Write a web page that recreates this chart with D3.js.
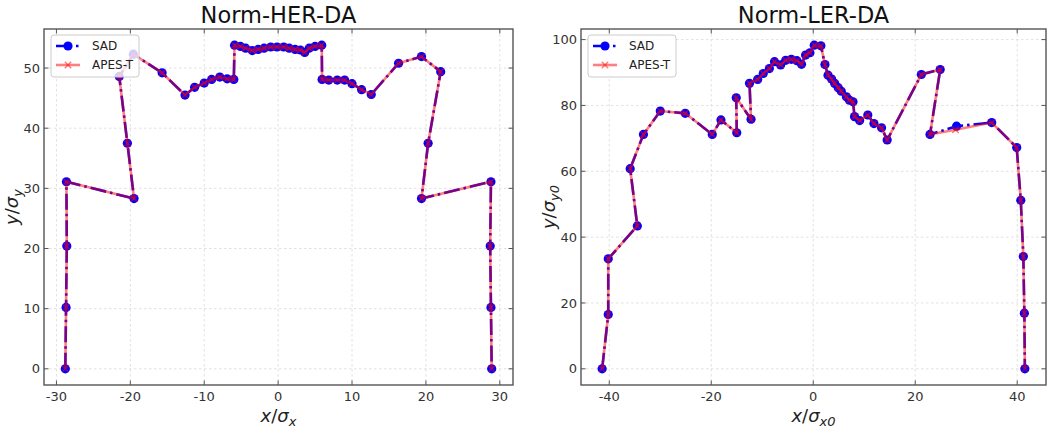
<!DOCTYPE html>
<html><head><meta charset="utf-8">
<script src="https://cdn.jsdelivr.net/npm/d3@7"></script>
<style>body{margin:0;background:#fff}svg{display:block}</style>
</head><body>
<svg id="c" width="1063" height="433"></svg>
<script>
// ---------- data ----------
const herSadX = [-28.8,-28.7,-28.6,-28.65,-19.5,-20.4,-21.5,-19.6,-15.7,-12.6,-11.3,-10.0,-9.0,-7.9,-6.9,-6.0,-5.9,-5.1,-4.4,-3.5,-2.7,-1.9,-1.0,-0.15,0.75,1.5,2.3,3.0,3.6,4.2,5.0,5.9,5.95,6.85,8.0,9.0,10.0,11.3,12.6,16.3,19.4,22.0,20.3,19.4,28.8,28.7,28.8,28.9];
const herSadY = [0,10.2,20.4,31.1,28.3,37.5,48.6,52.3,49.2,45.5,46.8,47.5,48.1,48.5,48.2,48.1,53.8,53.6,53.3,52.9,53.1,53.3,53.5,53.5,53.5,53.3,53.1,53.0,52.6,53.3,53.6,53.8,48.1,48.0,48.0,48.0,47.4,46.4,45.6,50.8,51.9,49.4,37.5,28.3,31.1,20.4,10.2,0];
const herApesX = [-28.8,-28.7,-28.6,-28.65,-19.5,-20.4,-21.5,-19.6,-15.7,-12.6,-11.3,-10.0,-9.0,-7.9,-6.9,-6.0,-5.9,-5.1,-4.4,-3.5,-2.7,-1.9,-1.0,-0.15,0.75,1.5,2.3,3.0,3.6,4.2,5.0,5.9,5.95,6.85,8.0,9.0,10.0,11.3,12.6,16.3,19.4,22.0,20.3,19.4,28.8,28.7,28.8,28.9];
const herApesY = [0,10.2,20.4,31.1,28.3,37.5,48.6,52.3,49.2,45.5,46.8,47.5,48.1,48.5,48.2,48.1,53.8,53.6,53.3,52.9,53.1,53.3,53.5,53.5,53.5,53.3,53.1,53.0,52.6,53.3,53.6,53.8,48.1,48.0,48.0,48.0,47.4,46.4,45.6,50.8,51.9,49.4,37.5,28.3,31.1,20.4,10.2,0];

const lerSadX = [-41.4,-40.2,-40.2,-34.5,-35.9,-33.3,-30.0,-25.1,-19.8,-18.1,-15.0,-15.1,-12.2,-12.5,-10.9,-9.8,-8.6,-7.6,-6.4,-5.4,-4.3,-3.2,-2.3,-1.5,-0.65,0.2,1.5,2.3,2.9,3.6,4.2,4.9,5.5,6.5,7.1,7.8,8.1,9.1,10.7,11.9,13.4,14.5,21.2,24.9,22.9,28.1,35.0,39.9,40.7,41.2,41.4,41.5];
const lerSadY = [0,16.5,33.4,43.4,60.8,71.2,78.3,77.6,71.2,75.6,71.7,82.3,75.8,86.7,87.9,89.7,91.2,93.3,92.3,93.7,94.0,93.6,92.5,95.3,96.0,98.3,98.1,92.4,89.2,88.0,86.7,85.4,84.3,82.6,81.6,81.1,76.6,75.4,77.1,74.5,73.2,69.5,89.4,90.9,71.2,73.7,74.8,67.2,51.2,34.1,16.9,0];
const lerApesX = [-41.4,-40.2,-40.2,-34.5,-35.9,-33.3,-30.0,-25.1,-19.8,-18.1,-15.0,-15.1,-12.2,-12.5,-10.9,-9.8,-8.6,-7.6,-6.4,-5.4,-4.3,-3.2,-2.3,-1.5,-0.65,0.2,1.5,2.3,2.9,3.6,4.2,4.9,5.5,6.5,7.1,7.8,8.1,9.1,10.7,11.9,13.4,14.5,21.2,24.9,22.9,27.9,35.0,39.9,40.7,41.2,41.4,41.5];
const lerApesY = [0,16.5,33.4,43.4,60.8,71.2,78.3,77.6,71.2,75.6,71.7,82.3,75.8,86.7,87.9,89.7,91.2,93.3,92.3,93.7,94.0,93.6,92.5,95.3,96.0,98.3,98.1,92.4,89.2,88.0,86.7,85.4,84.3,82.6,81.6,81.1,76.6,75.4,77.1,74.5,73.2,69.5,89.4,90.9,71.2,72.6,74.8,67.2,51.2,34.1,16.9,0];

const herXTicks = [-30,-20,-10,0,10,20,30];
const herYTicks = [0,10,20,30,40,50];
const lerXTicks = [-40,-20,0,20,40];
const lerYTicks = [0,20,40,60,80,100];
const seriesNames = ["SAD","APES-T"];
const titles = ["Norm-HER-DA","Norm-LER-DA"];

// ---------- drawing ----------
const svg = d3.select("#c");
const FONT = "DejaVu Sans, sans-serif";
const yTop = 29, yBot = 385;

function padded(vals){
  const [a,b] = d3.extent(vals); const r = b-a;
  return [a-0.05*r, b+0.05*r];
}

function panel(o){
  const g = svg.append("g");
  const x = d3.scaleLinear().domain(padded(o.sadX.concat(o.apesX))).range([o.x0,o.x1]);
  const y = d3.scaleLinear().domain(padded(o.sadY.concat(o.apesY))).range([yBot,yTop]);

  // grid
  g.append("g").selectAll("line").data(o.xt).join("line")
    .attr("x1",d=>x(d)).attr("x2",d=>x(d)).attr("y1",yTop).attr("y2",yBot)
    .attr("stroke","#d9d9d9").attr("stroke-width",0.8).attr("stroke-dasharray","2.5,2.5");
  g.append("g").selectAll("line").data(o.yt).join("line")
    .attr("y1",d=>y(d)).attr("y2",d=>y(d)).attr("x1",o.x0).attr("x2",o.x1)
    .attr("stroke","#d9d9d9").attr("stroke-width",0.8).attr("stroke-dasharray","2.5,2.5");

  const sad = o.sadX.map((v,i)=>[v,o.sadY[i]]);
  const apes = o.apesX.map((v,i)=>[v,o.apesY[i]]);
  const line = d3.line().x(d=>x(d[0])).y(d=>y(d[1]));

  g.append("path").attr("d",line(sad)).attr("fill","none").attr("stroke","#0000ff")
    .attr("stroke-width",2.6).attr("stroke-dasharray","16,4,2.5,4");
  g.append("g").selectAll("circle").data(sad).join("circle")
    .attr("cx",d=>x(d[0])).attr("cy",d=>y(d[1])).attr("r",4.6).attr("fill","#0000ff");

  g.append("path").attr("d",line(apes)).attr("fill","none").attr("stroke","#ff0000")
    .attr("stroke-opacity",0.5).attr("stroke-width",2.6);
  const s = 3.2;
  g.append("g").selectAll("path").data(apes).join("path")
    .attr("d",d=>{const cx=x(d[0]),cy=y(d[1]);return `M${cx-s},${cy-s}L${cx+s},${cy+s}M${cx-s},${cy+s}L${cx+s},${cy-s}`;})
    .attr("stroke","#ff0000").attr("stroke-opacity",0.5).attr("stroke-width",1.5).attr("fill","none");

  // spines
  g.append("rect").attr("x",o.x0).attr("y",yTop).attr("width",o.x1-o.x0).attr("height",yBot-yTop)
    .attr("fill","none").attr("stroke","#555").attr("stroke-width",1.4);

  // inward ticks on all sides
  const tl = 4.5;
  const tk = g.append("g").attr("stroke","#555").attr("stroke-width",1);
  o.xt.forEach(d=>{
    tk.append("line").attr("x1",x(d)).attr("x2",x(d)).attr("y1",yBot).attr("y2",yBot-tl);
    tk.append("line").attr("x1",x(d)).attr("x2",x(d)).attr("y1",yTop).attr("y2",yTop+tl);
  });
  o.yt.forEach(d=>{
    tk.append("line").attr("y1",y(d)).attr("y2",y(d)).attr("x1",o.x0).attr("x2",o.x0+tl);
    tk.append("line").attr("y1",y(d)).attr("y2",y(d)).attr("x1",o.x1).attr("x2",o.x1-tl);
  });
  g.append("g").selectAll("text").data(o.xt).join("text")
    .attr("x",d=>x(d)).attr("y",yBot+15.5).attr("text-anchor","middle")
    .attr("font-family",FONT).attr("font-size",13).attr("fill","#333")
    .text(d=>String(d));
  g.append("g").selectAll("text").data(o.yt).join("text")
    .attr("x",o.x0-4).attr("y",d=>y(d)+4.6).attr("text-anchor","end")
    .attr("font-family",FONT).attr("font-size",13).attr("fill","#333")
    .text(d=>String(d));

  // title
  g.append("text").attr("x",(o.x0+o.x1)/2).attr("y",23).attr("text-anchor","middle")
    .attr("font-family",FONT).attr("font-size",22.5).attr("fill","#111").text(o.title);

  // x label
  const xl = g.append("text").attr("x",(o.x0+o.x1)/2).attr("y",422).attr("text-anchor","middle")
    .attr("font-family",FONT).attr("font-size",18).attr("fill","#222");
  xl.append("tspan").attr("font-style","italic").text("x");
  xl.append("tspan").text("/");
  xl.append("tspan").attr("font-style","italic").text("σ");
  xl.append("tspan").attr("font-style","italic").attr("font-size",13).attr("dy",4).text(o.sub);

  const yl = g.append("text").attr("transform",`translate(${o.x0-26},${(yTop+yBot)/2}) rotate(-90)`)
    .attr("text-anchor","middle").attr("font-family",FONT).attr("font-size",18).attr("fill","#222");
  yl.append("tspan").attr("font-style","italic").text("y");
  yl.append("tspan").text("/");
  yl.append("tspan").attr("font-style","italic").text("σ");
  yl.append("tspan").attr("font-style","italic").attr("font-size",13).attr("dy",4).text(o.ysub);

  // legend
  const lg = g.append("g");
  lg.append("rect").attr("x",o.x0+7).attr("y",35).attr("width",88).attr("height",42).attr("rx",3)
    .attr("fill","#fff").attr("fill-opacity",0.8).attr("stroke","#ccc").attr("stroke-width",1);
  const ly = [46,65];
  lg.append("line").attr("x1",o.x0+12).attr("x2",o.x0+36).attr("y1",ly[0]).attr("y2",ly[0])
    .attr("stroke","#0000ff").attr("stroke-width",2.6).attr("stroke-dasharray","16,4,2.5,4");
  lg.append("circle").attr("cx",o.x0+24).attr("cy",ly[0]).attr("r",4.6).attr("fill","#0000ff");
  lg.append("line").attr("x1",o.x0+12).attr("x2",o.x0+36).attr("y1",ly[1]).attr("y2",ly[1])
    .attr("stroke","#ff0000").attr("stroke-opacity",0.5).attr("stroke-width",2.6);
  const cx=o.x0+24, cy=ly[1];
  lg.append("path").attr("d",`M${cx-s},${cy-s}L${cx+s},${cy+s}M${cx-s},${cy+s}L${cx+s},${cy-s}`)
    .attr("stroke","#ff0000").attr("stroke-opacity",0.5).attr("stroke-width",1.5);
  lg.selectAll("text.l").data(seriesNames).join("text").attr("class","l")
    .attr("x",o.x0+48).attr("y",(d,i)=>ly[i]+4.3)
    .attr("font-family",FONT).attr("font-size",12).attr("fill","#222").text(d=>d);
}

panel({x0:44,x1:513,sadX:herSadX,sadY:herSadY,apesX:herApesX,apesY:herApesY,
  xt:herXTicks,yt:herYTicks,title:titles[0],sub:"x",ysub:"y"});
panel({x0:581,x1:1046,sadX:lerSadX,sadY:lerSadY,apesX:lerApesX,apesY:lerApesY,
  xt:lerXTicks,yt:lerYTicks,title:titles[1],sub:"x0",ysub:"y0"});
</script>
</body></html>
